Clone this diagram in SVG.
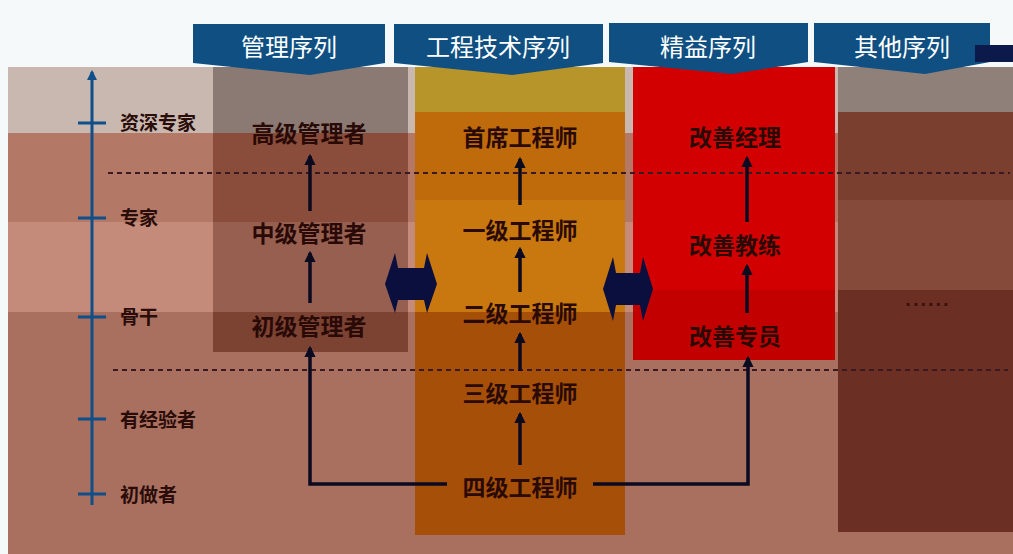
<svg xmlns="http://www.w3.org/2000/svg" width="1013" height="554" viewBox="0 0 1013 554">
<defs>
<style>
.hdr{fill:#0f4f82}
.hdrt{font-family:"Noto Sans CJK SC","Noto Sans",sans-serif;font-size:24px;fill:#ffffff;text-anchor:middle}
.lvl{font-family:"Noto Sans CJK SC","Noto Sans",sans-serif;font-size:19px;font-weight:bold;fill:#2a0c08}
.nd{font-family:"Noto Sans CJK SC","Noto Sans",sans-serif;font-size:23px;font-weight:bold;fill:#2a0a06;text-anchor:middle}
.ax{stroke:#0f4f8a;stroke-width:3;fill:none}
.dash{stroke:#3a1a22;stroke-width:2;stroke-dasharray:5,4;fill:none}
.con{stroke:#0a0a20;stroke-width:3.5;fill:none;marker-end:url(#ah)}
.dbl{fill:#0b0f3e}
</style>
<marker id="ah" viewBox="0 0 10 10" refX="8" refY="5" markerWidth="3.2" markerHeight="3.2" orient="auto"><path d="M0,0 L10,5 L0,10 z" fill="#0a0a20"/></marker>
<marker id="axh" viewBox="0 0 10 10" refX="8" refY="5" markerWidth="3.5" markerHeight="3.5" orient="auto"><path d="M0,0 L10,5 L0,10 z" fill="#0f4f8a"/></marker>
</defs>
<rect width="1013" height="554" fill="#f6f9fa"/>
<g id="background">
<rect x="8" y="67" width="1005" height="66" fill="#c8b8b0"/>
<rect x="8" y="133" width="1005" height="89" fill="#b47966"/>
<rect x="8" y="222" width="1005" height="90" fill="#c48a7a"/>
<rect x="8" y="312" width="1005" height="242" fill="#a96f5f"/>
</g>
<g id="col-management">
<rect x="213" y="67" width="195" height="66" fill="#8b7a73"/>
<rect x="213" y="133" width="195" height="89" fill="#8a4d3b"/>
<rect x="213" y="222" width="195" height="90" fill="#965f4f"/>
<rect x="213" y="312" width="195" height="40" fill="#7c4232"/>
</g>
<g id="col-engineering">
<rect x="415" y="67" width="210" height="45" fill="#b8952a"/>
<rect x="415" y="112" width="210" height="88" fill="#c06b0b"/>
<rect x="415" y="200" width="210" height="112" fill="#c8780f"/>
<rect x="415" y="312" width="210" height="223" fill="#a64f08"/>
</g>
<g id="col-lean">
<rect x="633" y="67" width="202" height="223" fill="#d20000"/>
<rect x="633" y="290" width="202" height="70" fill="#c30000"/>
</g>
<g id="col-other">
<rect x="838" y="67" width="175" height="45" fill="#8f817a"/>
<rect x="838" y="112" width="175" height="88" fill="#7b3f2f"/>
<rect x="838" y="200" width="175" height="90" fill="#864a3b"/>
<rect x="838" y="290" width="175" height="242" fill="#6c2f23"/>
<text x="928" y="306" style="font-family:'Liberation Sans',sans-serif;font-size:20px;font-weight:bold;letter-spacing:2px;fill:#3a1010;text-anchor:middle">......</text>
</g>
<g id="headers">
<g id="hdr-management"><path class="hdr" d="M193,24 H385 V63 L310,75 L193,63 Z"/><text class="hdrt" x="289" y="56">管理序列</text></g>
<g id="hdr-engineering"><path class="hdr" d="M394,24 H603 V63 L512,75 L394,63 Z"/><text class="hdrt" x="498" y="56">工程技术序列</text></g>
<g id="hdr-lean"><path class="hdr" d="M609,23 H808 V62 L732,74 L609,62 Z"/><text class="hdrt" x="708" y="56">精益序列</text></g>
<g id="hdr-other"><path class="hdr" d="M814,23 H990 V62 L925,74 L814,62 Z"/><rect x="975" y="45" width="38" height="17" fill="#0b1a4a"/><text class="hdrt" x="902" y="56">其他序列</text></g>
</g>
<g id="axis">
<line class="ax" x1="92" y1="505" x2="92" y2="72" marker-end="url(#axh)"/>
<line class="ax" x1="78" y1="123" x2="106" y2="123"/>
<line class="ax" x1="78" y1="218" x2="106" y2="218"/>
<line class="ax" x1="78" y1="317" x2="106" y2="317"/>
<line class="ax" x1="78" y1="419" x2="106" y2="419"/>
<line class="ax" x1="78" y1="494" x2="106" y2="494"/>
<text class="lvl" x="120" y="130">资深专家</text>
<text class="lvl" x="120" y="225">专家</text>
<text class="lvl" x="120" y="324">骨干</text>
<text class="lvl" x="120" y="427">有经验者</text>
<text class="lvl" x="120" y="502">初做者</text>
</g>
<g id="dividers">
<line class="dash" x1="108" y1="173" x2="1010" y2="173"/>
<line class="dash" x1="113" y1="370" x2="1008" y2="370"/>
</g>
<g id="nodes">
<g id="n-mgr-senior"><text class="nd" x="309" y="142">高级管理者</text></g>
<g id="n-mgr-mid"><text class="nd" x="309" y="242">中级管理者</text></g>
<g id="n-mgr-junior"><text class="nd" x="309" y="335">初级管理者</text></g>
<g id="n-eng-chief"><text class="nd" x="520" y="146">首席工程师</text></g>
<g id="n-eng-1"><text class="nd" x="520" y="239">一级工程师</text></g>
<g id="n-eng-2"><text class="nd" x="520" y="322">二级工程师</text></g>
<g id="n-eng-3"><text class="nd" x="520" y="402">三级工程师</text></g>
<g id="n-eng-4"><text class="nd" x="520" y="496">四级工程师</text></g>
<g id="n-lean-mgr"><text class="nd" x="735" y="146">改善经理</text></g>
<g id="n-lean-coach"><text class="nd" x="735" y="254">改善教练</text></g>
<g id="n-lean-spec"><text class="nd" x="735" y="345">改善专员</text></g>
</g>
<g id="connectors">
<line class="con" x1="310" y1="211" x2="310" y2="156"/>
<line class="con" x1="310" y1="303" x2="310" y2="253"/>
<line class="con" x1="520" y1="205" x2="520" y2="159"/>
<line class="con" x1="520" y1="292" x2="520" y2="249"/>
<line class="con" x1="520" y1="371" x2="520" y2="334"/>
<line class="con" x1="520" y1="465" x2="520" y2="414"/>
<line class="con" x1="747" y1="222" x2="747" y2="158"/>
<line class="con" x1="747" y1="313" x2="747" y2="266"/>
<path class="con" d="M447,484 H310 V348"/>
<path class="con" d="M593,484 H748 V358"/>
<path class="dbl" d="M385,284 L395,253 L398,268 L424,268 L427,253 L437,284 L427,313 L424,300 L398,300 L395,313 Z"/>
<path class="dbl" d="M603,289 L613,257 L616,273 L640,273 L643,257 L653,289 L643,321 L640,305 L616,305 L613,321 Z"/>
</g>
</svg>
